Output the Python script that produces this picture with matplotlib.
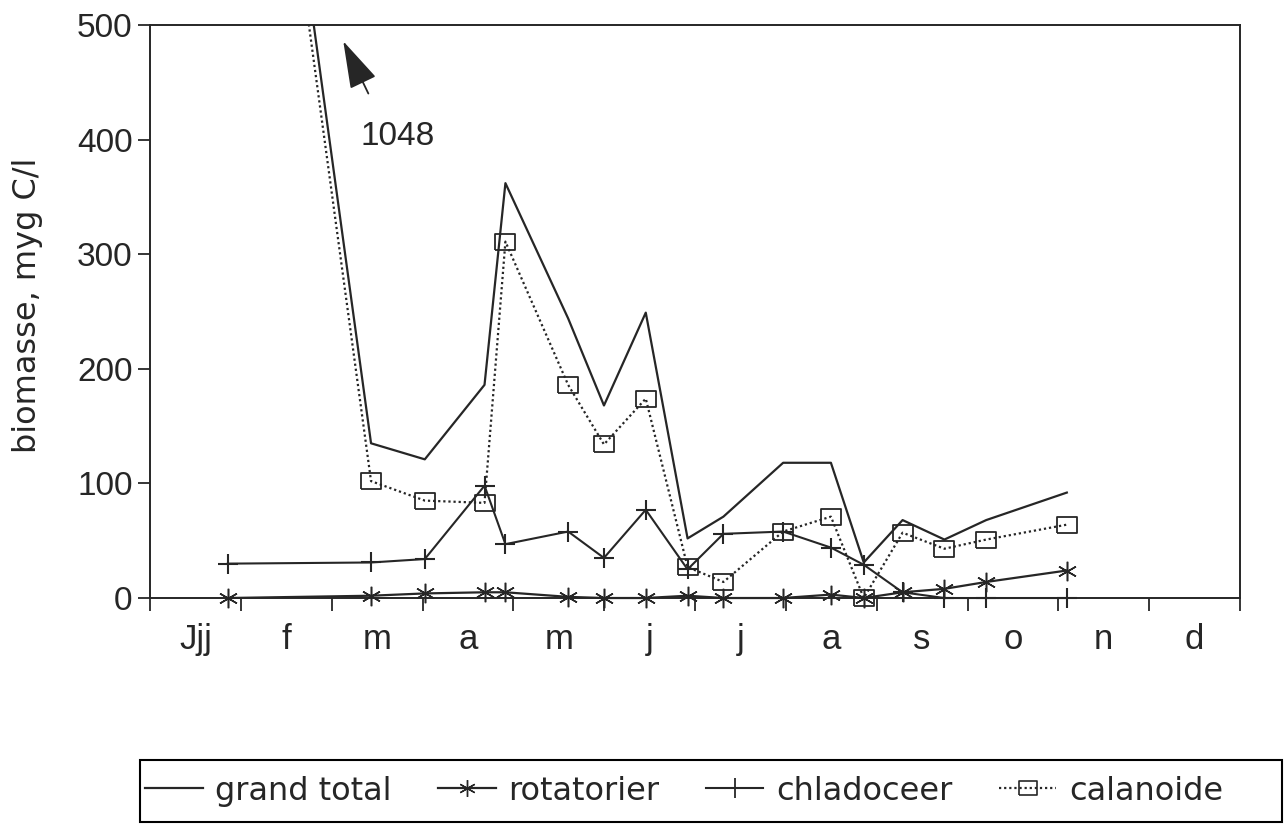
import matplotlib.pyplot as plt
import numpy as np
from matplotlib.lines import Line2D

plt.rcParams['font.family'] = ['Liberation Sans', 'DejaVu Sans']
wide = ['DejaVu Sans']

# sampling dates (day of year) and biomass values, myg C/l
days = [26, 74, 92, 112, 119, 140, 152, 166, 180, 192, 212, 228, 239, 252, 266, 280, 307]
grand_total = [1048, 135, 121, 186, 362, 244, 168, 249, 52, 71, 118, 118, 31, 68, 51, 68, 92]
rotatorier = [0, 2, 4, 5, 5, 1, 0, 0, 2, 0, 0, 3, 0, 5, 8, 14, 24]
chladoceer = [30, 31, 34, 98, 47, 58, 35, 77, 25, 56, 58, 44, 29, 5, 0, 0, 0]
calanoide = [1020, 102, 85, 83, 311, 186, 134, 174, 27, 14, 58, 71, 0, 57, 43, 51, 64]

months = ['Jjj', 'f', 'm', 'a', 'm', 'j', 'j', 'a', 's', 'o', 'n', 'd']

ink = '#262626'
rect = [(-1, -0.75), (1, -0.75), (1, 0.75), (-1, 0.75), (-1, -0.75)]
dots = (0, (1, 1.3))

fig = plt.figure(figsize=(12.87, 8.30), dpi=100)
ax = fig.add_axes([0.1166, 0.2795, 0.8469, 0.6904])

ax.plot(days, grand_total, color=ink, lw=1.6)
ax.plot(days, rotatorier, color=ink, lw=1.6, marker=(6, 2, 0), ms=14,
        mew=1.1, clip_on=False)
ax.plot(days, chladoceer, color=ink, lw=1.5, marker='+', ms=15,
        mew=1.5, clip_on=False)
ax.plot(days, calanoide, color=ink, lw=1.6, linestyle=dots)
cal = np.array(calanoide)
d = np.array(days)
ok = cal <= 500
ax.plot(d[ok], cal[ok], linestyle='none', marker=rect, ms=15, mfc='none',
        mec=ink, mew=1.3, clip_on=False)

# arrow pointing to the off-scale first value
ax.annotate('', xy=(64.3, 488), xytext=(73.5, 438),
            arrowprops=dict(arrowstyle='-|>,head_length=1.5,head_width=0.45',
                            mutation_scale=20, color=ink, lw=1.3))
ax.text(83, 403, '1048', fontsize=24, color=ink, ha='center', va='center')

ax.set_xlim(0, 365)
ax.set_ylim(0, 500)
edges = np.arange(13) * 365 / 12
ax.set_xticks(edges)
ax.set_xticklabels([])
ax.set_xticks(edges[:-1] + 365 / 24, minor=True)
ax.set_xticklabels(months, minor=True)
ax.set_yticks([0, 100, 200, 300, 400, 500])
ax.tick_params(axis='both', which='major', direction='out', length=9,
               width=1.3, labelsize=24, colors=ink)
ax.tick_params(axis='x', which='minor', length=0, pad=18, labelsize=25,
               colors=ink)
for s in ax.spines.values():
    s.set_linewidth(1.4)
    s.set_color(ink)

ax.set_ylabel('biomasse, myg C/l', fontsize=23, family=wide, color=ink)
ax.yaxis.set_label_coords(-0.098, 0.51)

handles = [
    Line2D([], [], color=ink, lw=1.6),
    Line2D([], [], color=ink, lw=1.6, marker=(6, 2, 0), ms=12, mew=1.0),
    Line2D([], [], color=ink, lw=1.5, marker='+', ms=14, mew=1.3),
    Line2D([], [], color=ink, lw=1.6, linestyle=dots, marker=rect, ms=13,
           mfc='none', mec=ink, mew=1.2),
]
labels = ['grand total', 'rotatorier', 'chladoceer', 'calanoide']
leg = fig.legend(handles, labels, loc='center left',
                 bbox_to_anchor=(145 / 1287, 1 - 791 / 830), ncol=4,
                 frameon=False, prop={'family': wide, 'size': 23},
                 handlelength=1.8, handletextpad=0.4, columnspacing=1.45,
                 borderpad=0, borderaxespad=0)
for t in leg.get_texts():
    t.set_color(ink)
# legend box, wider than its entries as in the original
fig.add_artist(plt.Rectangle((140 / 1287, 1 - 822 / 830), 1142 / 1287,
                             62 / 830, transform=fig.transFigure, fill=False,
                             lw=1.5, ec='black'))

fig.savefig('out.png', dpi=100, facecolor='white')
